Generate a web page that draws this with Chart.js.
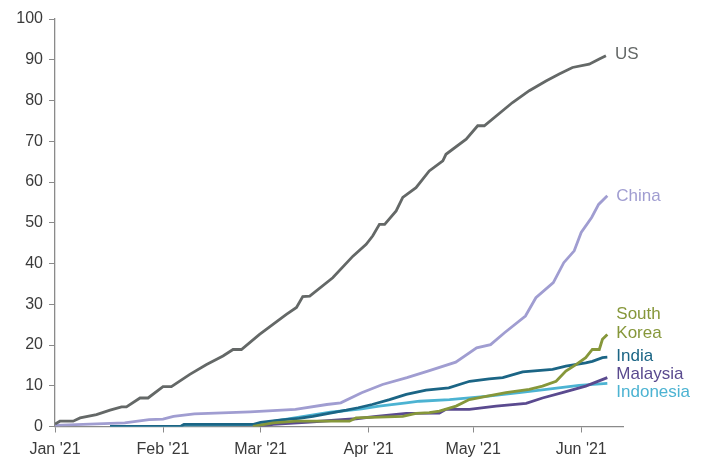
<!DOCTYPE html>
<html>
<head>
<meta charset="utf-8">
<script src="https://cdn.jsdelivr.net/npm/chart.js@4"></script>
<style>
html,body{margin:0;padding:0;background:#fff;}
#wrap{width:702px;height:459px;position:relative;}
</style>
</head>
<body>
<div id="wrap"><canvas id="c" width="702" height="459"></canvas></div>
<script>
// Days since 1 Jan 2021
const monthTickDays = [0, 31, 59, 90, 120, 151];
const monthTickLabels = ["Jan '21", "Feb '21", "Mar '21", "Apr '21", "May '21", "Jun '21"];
const yTicks = [0,10,20,30,40,50,60,70,80,90,100];

const usX = [0,1.4,5.2,7.2,11.9,15.8,19.1,20.5,24.4,26.7,31,33.4,38.7,43.5,48.2,51.1,53.5,58.7,66.4,69.3,71.1,73.1,79.7,85.5,89.3,91.2,93.1,94.6,97.9,99.8,103.6,107.4,111.3,112.2,118,121.3,123.2,131.3,136.1,140.9,144.7,148.5,153.3,156.2,158.1];
const usY = [0.6,1.3,1.3,2.1,2.9,4,4.8,4.8,7,7,9.8,9.8,12.8,15.2,17.3,18.9,18.9,22.6,27.5,29.2,31.9,32,36.5,41.8,44.7,46.8,49.6,49.6,52.9,56.2,58.6,62.7,65.2,66.8,70.5,73.8,73.8,79.5,82.4,84.8,86.5,88.1,88.9,90.2,91];

const chinaX = [0,10,20,27,31,34,40,56,69,78,82,88,94,101,107,115,121,125,129,135,138,143,146,149,151,154,156,158.5];
const chinaY = [0.3,0.6,0.9,1.7,1.8,2.5,3.1,3.6,4.2,5.4,5.8,8.3,10.3,12,13.6,15.8,19.3,20.1,23,27.1,31.6,35.3,40.2,43.1,47.6,51.3,54.5,56.6];

const koreaX = [56.8,62.6,69.3,84.5,86.4,99.8,103.6,107.4,110.3,115.1,118.9,123.7,129.4,136.1,139.9,143.8,146.6,149.5,152.3,154.2,156.2,157.1,158.5];
const koreaY = [0,0.9,1.3,1.3,2.1,2.5,3.2,3.4,3.8,5.0,6.6,7.4,8.3,9.1,9.9,11.1,13.6,15.2,16.9,18.9,18.9,21.4,22.6];

const indiaX = [15.8,36,37,57,59,65,70,74,79,83.6,87,91,96,100.8,106.5,113,119,124.6,128.5,134.2,142.8,146.6,152.3,154.2,157.1,158.5];
const indiaY = [0,0,0.5,0.5,1.0,1.6,2.0,2.5,3.3,4,4.6,5.4,6.6,7.9,8.9,9.5,11.1,11.7,12,13.4,14,14.8,15.6,16,16.9,17];

const malaysiaX = [58.7,62.6,73.1,86.4,92.2,100.8,110.3,112.2,118.9,126.6,135.2,139.9,145.6,152.3,158.5];
const malaysiaY = [0,0.5,1.1,1.9,2.5,3.2,3.3,4.2,4.2,5.0,5.7,7.0,8.3,9.9,12];

const indonesiaX = [15.8,36,37,50,58,60,67,79,88,93,100.8,104.6,113.2,118.9,123.7,133.2,142.8,150.4,158.5];
const indonesiaY = [0,0,0.3,0.4,0.5,0.9,1.9,3.5,4.3,5.0,5.8,6.2,6.6,7.0,7.4,8.3,9.3,10.1,10.6];

const seriesNames = ["US", "China", "South Korea", "India", "Malaysia", "Indonesia"];

function pts(xs, ys){ return xs.map((x,i)=>({x:x, y:ys[i]})); }

const FONT = "'Liberation Sans', Arial, sans-serif";

const series = [
  {name: seriesNames[0], data: pts(usX, usY), color: '#646867', label: ['US'], labelAt: 91.3},
  {name: seriesNames[1], data: pts(chinaX, chinaY), color: '#a09dd1', label: ['China'], labelAt: 56.6},
  {name: seriesNames[2], data: pts(koreaX, koreaY), color: '#86973a', label: ['South','Korea'], labelAt: 25.3},
  {name: seriesNames[3], data: pts(indiaX, indiaY), color: '#1b6585', label: ['India'], labelAt: 17.3},
  {name: seriesNames[4], data: pts(malaysiaX, malaysiaY), color: '#5a4a8f', label: ['Malaysia'], labelAt: 12.7},
  {name: seriesNames[5], data: pts(indonesiaX, indonesiaY), color: '#4cb3d2', label: ['Indonesia'], labelAt: 8.5}
];

const endLabels = {
  id: 'endLabels',
  afterDatasetsDraw(chart){
    const ctx = chart.ctx;
    const ys = chart.scales.y;
    ctx.save();
    ctx.font = "17px " + FONT;
    ctx.textBaseline = 'middle';
    ctx.textAlign = 'left';
    chart.data.datasets.forEach((ds, i) => {
      const meta = chart.getDatasetMeta(i);
      const last = meta.data[meta.data.length-1];
      const s = series[i];
      const cy = ys.getPixelForValue(s.labelAt);
      const lh = 19;
      const n = s.label.length;
      ctx.fillStyle = s.color;
      s.label.forEach((t, k) => {
        ctx.fillText(t, last.x + 9, cy + (k - (n-1)/2) * lh);
      });
    });
    ctx.restore();
  }
};

new Chart(document.getElementById('c'), {
  type: 'line',
  data: {
    datasets: series.map(s => ({
      label: s.name,
      data: s.data,
      borderColor: s.color,
      backgroundColor: s.color,
      borderWidth: 2.8,
      pointRadius: 0,
      tension: 0,
      fill: false
    }))
  },
  options: {
    responsive: false,
    animation: false,
    devicePixelRatio: 1,
    layout: {padding: {top: 19, right: 79, left: 0, bottom: 0}},
    plugins: {legend: {display: false}, tooltip: {enabled: false}},
    scales: {
      x: {
        type: 'linear',
        min: 0,
        max: 163,
        afterBuildTicks(scale){ scale.ticks = monthTickDays.map(v => ({value: v})); },
        afterFit(scale){ scale.height = 32.5; },
        grid: {drawOnChartArea: false, drawTicks: true, tickLength: 6, color: '#8a8a8a'},
        border: {color: '#8a8a8a', width: 1.3},
        ticks: {
          autoSkip: false, maxRotation: 0, padding: 7,
          color: '#3a3a3a',
          font: {family: FONT, size: 16},
          callback(v){ const i = monthTickDays.indexOf(v); return i >= 0 ? monthTickLabels[i] : ''; }
        }
      },
      y: {
        min: 0,
        max: 100,
        afterBuildTicks(scale){ scale.ticks = yTicks.map(v => ({value: v})); },
        afterFit(scale){ scale.width = 55; },
        grid: {drawOnChartArea: false, drawTicks: true, tickLength: 6, color: '#8a8a8a'},
        border: {color: '#8a8a8a', width: 1.3},
        ticks: {
          padding: 6,
          color: '#3a3a3a',
          font: {family: FONT, size: 16}
        }
      }
    }
  },
  plugins: [endLabels]
});
</script>
</body>
</html>
